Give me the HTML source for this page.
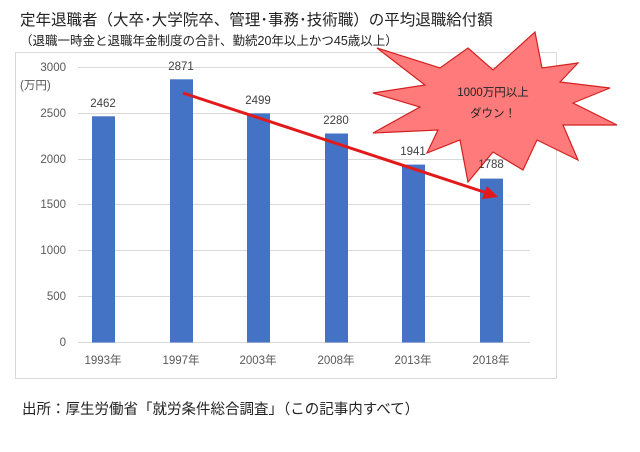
<!DOCTYPE html>
<html><head><meta charset="utf-8"><style>
body{margin:0;background:#fff;}
svg text{font-family:"Liberation Sans","Noto Sans CJK JP",sans-serif;}
</style></head><body>
<svg width="640" height="447" viewBox="0 0 640 447" xmlns="http://www.w3.org/2000/svg">
<rect width="640" height="447" fill="#fff"/>
<text x="20" y="25" font-size="15.5" fill="#222">定年退職者（大卒･大学院卒、管理･事務･技術職）の平均退職給付額</text>
<text x="20" y="45" font-size="12.5" fill="#222">（退職一時金と退職年金制度の合計、勤続20年以上かつ45歳以上）</text>
<rect x="15.5" y="52.5" width="541" height="326" fill="none" stroke="#d9d9d9"/>
<g stroke="#d9d9d9" stroke-width="1">
<line x1="78" x2="530" y1="67.5" y2="67.5"/>
<line x1="78" x2="530" y1="113.5" y2="113.5"/>
<line x1="78" x2="530" y1="159.5" y2="159.5"/>
<line x1="78" x2="530" y1="204.5" y2="204.5"/>
<line x1="78" x2="530" y1="250.5" y2="250.5"/>
<line x1="78" x2="530" y1="296.5" y2="296.5"/>
<line x1="78" x2="530" y1="342.5" y2="342.5"/>
</g>
<g font-size="11.5" fill="#595959" text-anchor="end">
<text x="66" y="71">3000</text>
<text x="66" y="117">2500</text>
<text x="66" y="163">2000</text>
<text x="66" y="208">1500</text>
<text x="66" y="254">1000</text>
<text x="66" y="300">500</text>
<text x="66" y="346">0</text>
</g>
<text x="20" y="89" font-size="11.5" fill="#595959">(万円)</text>
<g fill="#4472c4">
<rect x="92" y="116.3" width="23" height="226.2"/>
<rect x="170" y="79.3" width="23" height="263.2"/>
<rect x="247" y="113.4" width="23" height="229.1"/>
<rect x="325" y="133.5" width="23" height="209"/>
<rect x="402" y="164.6" width="23" height="177.9"/>
<rect x="480" y="178.6" width="23" height="163.9"/>
</g>
<g font-size="11.5" fill="#404040" text-anchor="middle">
<text x="103" y="107">2462</text>
<text x="181" y="70">2871</text>
<text x="258" y="104">2499</text>
<text x="336" y="124">2280</text>
<text x="413" y="155">1941</text>
</g>
<g font-size="11.5" fill="#595959" text-anchor="middle">
<text x="103" y="364">1993年</text>
<text x="181" y="364">1997年</text>
<text x="258" y="364">2003年</text>
<text x="336" y="364">2008年</text>
<text x="413" y="364">2013年</text>
<text x="491" y="364">2018年</text>
</g>
<line x1="183" y1="93" x2="487" y2="193" stroke="#e31a1c" stroke-width="3"/>
<polygon points="498,197 482,199 487,186" fill="#e31a1c"/>
<polygon points="377,48 440,68 468,48 493,70 535,32 542,68 578,63 560,82 610,88 573,103 617,125 563,125 578,160 537,140 523,170 493,152 468,182 460,140 427,153 438,130 373,133 420,107 373,93 425,85" fill="#ff7b7b" stroke="#d42020" stroke-width="1.2" stroke-linejoin="miter"/>
<text x="493" y="96" font-size="11.5" fill="#222" text-anchor="middle">1000万円以上</text>
<text x="493" y="117" font-size="11.5" fill="#222" text-anchor="middle">ダウン！</text>
<text x="491" y="168" font-size="11.5" fill="#404040" text-anchor="middle">1788</text>
<text x="22" y="414" font-size="14.5" fill="#222">出所：厚生労働省「就労条件総合調査」（この記事内すべて）</text>
</svg>
</body></html>
